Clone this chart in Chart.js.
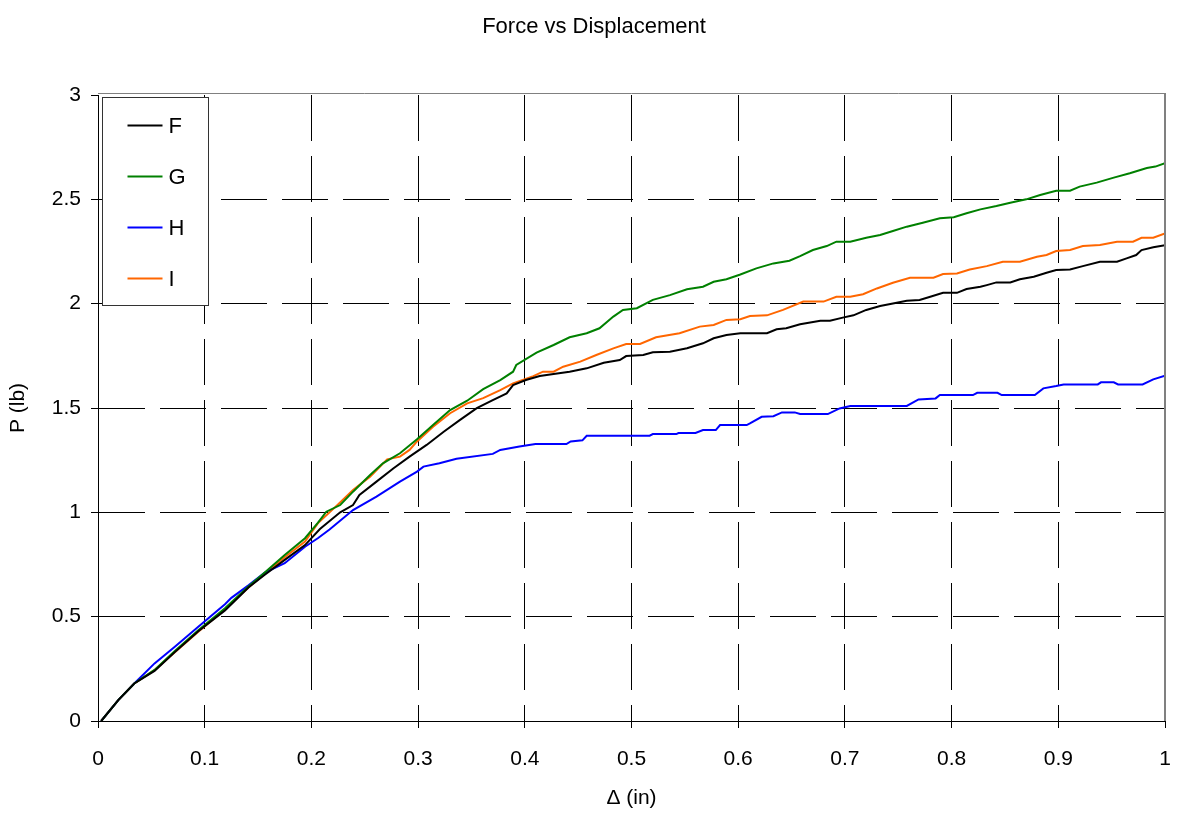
<!DOCTYPE html>
<html>
<head>
<meta charset="utf-8">
<title>Force vs Displacement</title>
<script src="https://cdn.jsdelivr.net/npm/chart.js@4.4.1/dist/chart.umd.min.js"></script>
<style>
  html, body { margin: 0; padding: 0; background: #ffffff; }
  #wrap { width: 1182px; height: 816px; }
</style>
</head>
<body>
<div id="wrap"><canvas id="chart" width="1182" height="816"></canvas></div>
<script>
// Load (lb) against displacement (in) for four specimens, as [displacement, load] pairs.
const specimenF = [[0.003,0],[0.019,0.10],[0.034,0.18],[0.053,0.24],[0.072,0.33],[0.094,0.43],[0.119,0.53],[0.141,0.64],[0.156,0.70],[0.175,0.772],[0.194,0.843],[0.208,0.92],[0.227,1.0],[0.239,1.035],[0.245,1.083],[0.261,1.147],[0.277,1.211],[0.292,1.267],[0.308,1.323],[0.324,1.386],[0.339,1.442],[0.355,1.499],[0.37,1.538],[0.383,1.57],[0.389,1.61],[0.401,1.634],[0.414,1.653],[0.427,1.663],[0.442,1.674],[0.458,1.69],[0.474,1.717],[0.489,1.73],[0.495,1.749],[0.511,1.754],[0.52,1.767],[0.536,1.77],[0.552,1.786],[0.567,1.81],[0.577,1.834],[0.589,1.85],[0.602,1.858],[0.627,1.858],[0.636,1.877],[0.645,1.882],[0.658,1.901],[0.677,1.918],[0.686,1.918],[0.698,1.933],[0.708,1.944],[0.72,1.97],[0.733,1.989],[0.745,2.001],[0.758,2.014],[0.77,2.018],[0.78,2.033],[0.792,2.052],[0.805,2.052],[0.814,2.07],[0.827,2.081],[0.833,2.089],[0.842,2.102],[0.855,2.102],[0.864,2.117],[0.877,2.129],[0.889,2.148],[0.898,2.161],[0.911,2.164],[0.923,2.18],[0.939,2.201],[0.955,2.201],[0.964,2.217],[0.973,2.233],[0.978,2.257],[0.989,2.27],[1.0,2.28]];
const specimenG = [[0.003,0],[0.019,0.10],[0.034,0.18],[0.053,0.245],[0.072,0.335],[0.094,0.435],[0.119,0.54],[0.141,0.645],[0.156,0.71],[0.175,0.796],[0.194,0.876],[0.206,0.95],[0.214,1.003],[0.227,1.035],[0.239,1.099],[0.255,1.179],[0.267,1.235],[0.283,1.283],[0.299,1.35],[0.314,1.418],[0.33,1.49],[0.346,1.535],[0.361,1.59],[0.377,1.634],[0.389,1.674],[0.392,1.706],[0.411,1.765],[0.427,1.802],[0.442,1.839],[0.458,1.858],[0.47,1.882],[0.483,1.938],[0.492,1.97],[0.505,1.978],[0.52,2.018],[0.536,2.041],[0.552,2.069],[0.567,2.081],[0.577,2.105],[0.589,2.117],[0.602,2.14],[0.617,2.169],[0.633,2.193],[0.648,2.206],[0.658,2.228],[0.67,2.257],[0.683,2.276],[0.692,2.297],[0.705,2.297],[0.72,2.316],[0.733,2.329],[0.745,2.348],[0.758,2.369],[0.773,2.388],[0.789,2.409],[0.802,2.414],[0.814,2.433],[0.827,2.452],[0.842,2.468],[0.855,2.484],[0.87,2.5],[0.883,2.521],[0.898,2.541],[0.911,2.541],[0.92,2.561],[0.936,2.58],[0.952,2.604],[0.967,2.625],[0.983,2.65],[0.991,2.657],[1.0,2.673]];
const specimenH = [[0.003,0],[0.019,0.10],[0.034,0.18],[0.053,0.276],[0.072,0.356],[0.094,0.452],[0.119,0.56],[0.125,0.59],[0.141,0.65],[0.156,0.71],[0.175,0.756],[0.194,0.835],[0.206,0.876],[0.217,0.918],[0.239,1.011],[0.261,1.075],[0.283,1.147],[0.299,1.195],[0.305,1.219],[0.32,1.235],[0.336,1.257],[0.37,1.28],[0.377,1.299],[0.395,1.315],[0.41,1.327],[0.439,1.327],[0.443,1.34],[0.454,1.345],[0.458,1.367],[0.517,1.367],[0.52,1.375],[0.542,1.375],[0.544,1.38],[0.56,1.38],[0.567,1.394],[0.579,1.394],[0.583,1.418],[0.608,1.418],[0.611,1.426],[0.622,1.458],[0.633,1.461],[0.641,1.479],[0.653,1.479],[0.658,1.471],[0.684,1.471],[0.695,1.498],[0.705,1.51],[0.758,1.51],[0.769,1.541],[0.785,1.546],[0.789,1.562],[0.82,1.562],[0.824,1.573],[0.843,1.573],[0.847,1.562],[0.878,1.562],[0.886,1.594],[0.898,1.605],[0.905,1.613],[0.937,1.613],[0.94,1.623],[0.952,1.623],[0.956,1.613],[0.979,1.613],[0.989,1.637],[1.0,1.655]];
const specimenI = [[0.003,0],[0.019,0.10],[0.034,0.18],[0.053,0.244],[0.072,0.33],[0.094,0.428],[0.119,0.535],[0.141,0.64],[0.156,0.705],[0.175,0.785],[0.194,0.86],[0.206,0.947],[0.221,1.019],[0.239,1.107],[0.255,1.171],[0.271,1.254],[0.283,1.267],[0.292,1.299],[0.299,1.34],[0.314,1.41],[0.33,1.475],[0.346,1.522],[0.361,1.547],[0.377,1.586],[0.389,1.618],[0.408,1.653],[0.417,1.674],[0.427,1.674],[0.436,1.698],[0.452,1.722],[0.467,1.754],[0.483,1.786],[0.495,1.807],[0.508,1.807],[0.523,1.839],[0.545,1.858],[0.564,1.89],[0.577,1.898],[0.589,1.922],[0.602,1.925],[0.611,1.941],[0.627,1.944],[0.642,1.97],[0.661,2.01],[0.68,2.01],[0.692,2.033],[0.705,2.033],[0.717,2.045],[0.73,2.073],[0.745,2.1],[0.761,2.124],[0.783,2.124],[0.792,2.142],[0.805,2.145],[0.817,2.164],[0.833,2.18],[0.848,2.201],[0.864,2.201],[0.88,2.225],[0.889,2.233],[0.898,2.252],[0.911,2.257],[0.923,2.276],[0.939,2.281],[0.955,2.297],[0.97,2.297],[0.978,2.316],[0.989,2.316],[1.0,2.337]];

const seriesNames = ['F', 'G', 'H', 'I'];
const seriesColors = ['#000000', '#008000', '#0000ff', '#ff6600'];
const seriesData = [specimenF, specimenG, specimenH, specimenI];

const xTickValues = [0, 0.1, 0.2, 0.3, 0.4, 0.5, 0.6, 0.7, 0.8, 0.9, 1];
const xTickLabels = ['0', '0.1', '0.2', '0.3', '0.4', '0.5', '0.6', '0.7', '0.8', '0.9', '1'];
const yTickValues = [0, 0.5, 1, 1.5, 2, 2.5, 3];
const yTickLabels = ['0', '0.5', '1', '1.5', '2', '2.5', '3'];

const chartTitle = 'Force vs Displacement';
const FONT = "'Liberation Sans', Arial, Helvetica, sans-serif";

// Title centred over the whole figure, with the space above the plot kept clear by layout padding.
const figureTitle = {
  id: 'figureTitle',
  afterDraw(chart) {
    const { ctx } = chart;
    ctx.save();
    ctx.font = '22px ' + FONT;
    ctx.fillStyle = '#000000';
    ctx.textAlign = 'center';
    ctx.textBaseline = 'middle';
    ctx.fillText(chartTitle, 594, 27);
    ctx.restore();
  }
};

// Gray frame along the top and right edges of the plot area.
const plotFrame = {
  id: 'plotFrame',
  afterDatasetsDraw(chart) {
    const { ctx, chartArea: a } = chart;
    ctx.save();
    ctx.strokeStyle = '#808080';
    ctx.lineWidth = 1;
    ctx.beginPath();
    ctx.moveTo(a.left, a.top - 1.5);
    ctx.lineTo(a.right, a.top - 1.5);
    ctx.stroke();
    ctx.lineWidth = 2;
    ctx.beginPath();
    ctx.moveTo(a.right, a.top - 2);
    ctx.lineTo(a.right, a.bottom);
    ctx.stroke();
    ctx.restore();
  }
};

// Boxed legend sitting in the upper-left corner of the plot.
const boxLegend = {
  id: 'boxLegend',
  afterDraw(chart) {
    const { ctx, chartArea: a } = chart;
    const x0 = a.left + 4.5, y0 = a.top + 2.5, w = 106, h = 208;
    ctx.save();
    ctx.fillStyle = '#ffffff';
    ctx.fillRect(x0, y0, w, h);
    ctx.strokeStyle = '#333333';
    ctx.lineWidth = 1;
    ctx.strokeRect(x0, y0, w, h);
    ctx.font = '22px ' + FONT;
    ctx.textBaseline = 'middle';
    ctx.textAlign = 'left';
    chart.data.datasets.forEach((ds, i) => {
      const cy = y0 + 28 + i * 51;
      ctx.strokeStyle = ds.borderColor;
      ctx.lineWidth = 2;
      ctx.beginPath();
      ctx.moveTo(x0 + 25, cy);
      ctx.lineTo(x0 + 60, cy);
      ctx.stroke();
      ctx.fillStyle = '#000000';
      ctx.fillText(ds.label, x0 + 66, cy + 1);
    });
    ctx.restore();
  }
};

const datasets = seriesNames.map((name, i) => ({
  label: name,
  data: seriesData[i].map(p => ({ x: p[0], y: p[1] })),
  borderColor: seriesColors[i],
  backgroundColor: seriesColors[i],
  borderWidth: 2,
  pointRadius: 0,
  tension: 0,
  fill: false
}));

new Chart(document.getElementById('chart'), {
  type: 'line',
  data: { datasets },
  options: {
    responsive: false,
    animation: false,
    devicePixelRatio: 1,
    layout: { padding: { left: 0, right: 17, top: 95, bottom: 0 } },
    plugins: {
      legend: { display: false },
      tooltip: { enabled: false },
      title: { display: false }
    },
    scales: {
      x: {
        type: 'linear',
        min: 0,
        max: 1,
        afterBuildTicks: s => { s.ticks = xTickValues.map(v => ({ value: v })); },
        afterFit: s => { s.height = 95; s.paddingLeft = 0; s.paddingRight = 0; },
        ticks: {
          autoSkip: false,
          maxRotation: 0,
          padding: 19,
          color: '#000000',
          font: { family: FONT, size: 21 },
          callback: (v, i) => xTickLabels[i]
        },
        grid: {
          color: '#000000',
          lineWidth: 1,
          tickBorderDash: [],
          tickColor: '#000000',
          tickLength: 7,
          drawTicks: true
        },
        border: { display: true, color: '#000000', width: 1, dash: [46, 15] },
        title: {
          display: true,
          text: 'Δ (in)',
          color: '#000000',
          font: { family: FONT, size: 21 },
          padding: { top: 0, bottom: 5 }
        }
      },
      y: {
        type: 'linear',
        min: 0,
        max: 3,
        afterBuildTicks: s => { s.ticks = yTickValues.map(v => ({ value: v })); },
        afterFit: s => { s.width = 98; },
        ticks: {
          autoSkip: false,
          padding: 10,
          color: '#000000',
          font: { family: FONT, size: 21 },
          callback: (v, i) => yTickLabels[i]
        },
        grid: {
          color: c => (c.tick && c.tick.value === 3) ? 'rgba(0,0,0,0)' : '#000000',
          lineWidth: 1,
          tickBorderDash: [],
          tickColor: '#000000',
          tickLength: 7,
          drawTicks: true
        },
        border: { display: true, color: '#000000', width: 1, dash: [46, 15] },
        title: {
          display: true,
          text: 'P (lb)',
          color: '#000000',
          font: { family: FONT, size: 21 },
          padding: { top: 6, bottom: 0 }
        }
      }
    }
  },
  plugins: [figureTitle, plotFrame, boxLegend]
});
</script>
</body>
</html>
